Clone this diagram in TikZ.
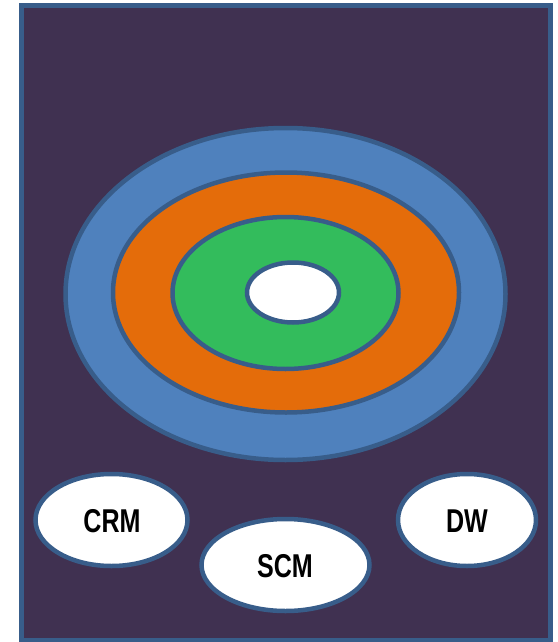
\documentclass[tikz,border=0pt]{standalone}
\usepackage{fontspec}
\setmainfont[FakeStretch=0.76]{Liberation Sans}
\definecolor{panel}{HTML}{403151}
\definecolor{edge}{HTML}{385D8A}
\definecolor{ringblue}{HTML}{4F81BD}
\definecolor{ringorange}{HTML}{E46C0A}
\definecolor{ringgreen}{HTML}{33BC5C}
\tikzset{
  ring/.style={draw=edge, line width=4.5pt},
  bubble/.style={ring, fill=white},
  label/.style={font=\fontsize{33}{36}\selectfont\bfseries, text=black}
}
\begin{document}
\begin{tikzpicture}[x=1pt, y=-1pt]
  \useasboundingbox (0,0) rectangle (557,642);
  % dark panel
  \draw[draw=edge, line width=5pt, fill=panel] (21,6) rectangle (550,640);
  % concentric rings
  \draw[ring, fill=ringblue]   (285.5,294) ellipse [x radius=220, y radius=166];
  \draw[ring, fill=ringorange] (286,292.5) ellipse [x radius=173, y radius=120];
  \draw[ring, fill=ringgreen]  (285.5,293) ellipse [x radius=113, y radius=76];
  \draw[bubble]                (293,292.5) ellipse [x radius=46, y radius=30];
  % application bubbles
  \draw[bubble] (111.5,520) ellipse [x radius=76, y radius=46];
  \draw[bubble] (285.5,565) ellipse [x radius=84, y radius=46];
  \draw[bubble] (467,520)   ellipse [x radius=69, y radius=46];
  \node[label] (crm) at (112,521) {CRM};
  \node[label] (scm) at (285,566) {SCM};
  \node[label] (dw)  at (467,521) {DW};
\end{tikzpicture}
\end{document}
